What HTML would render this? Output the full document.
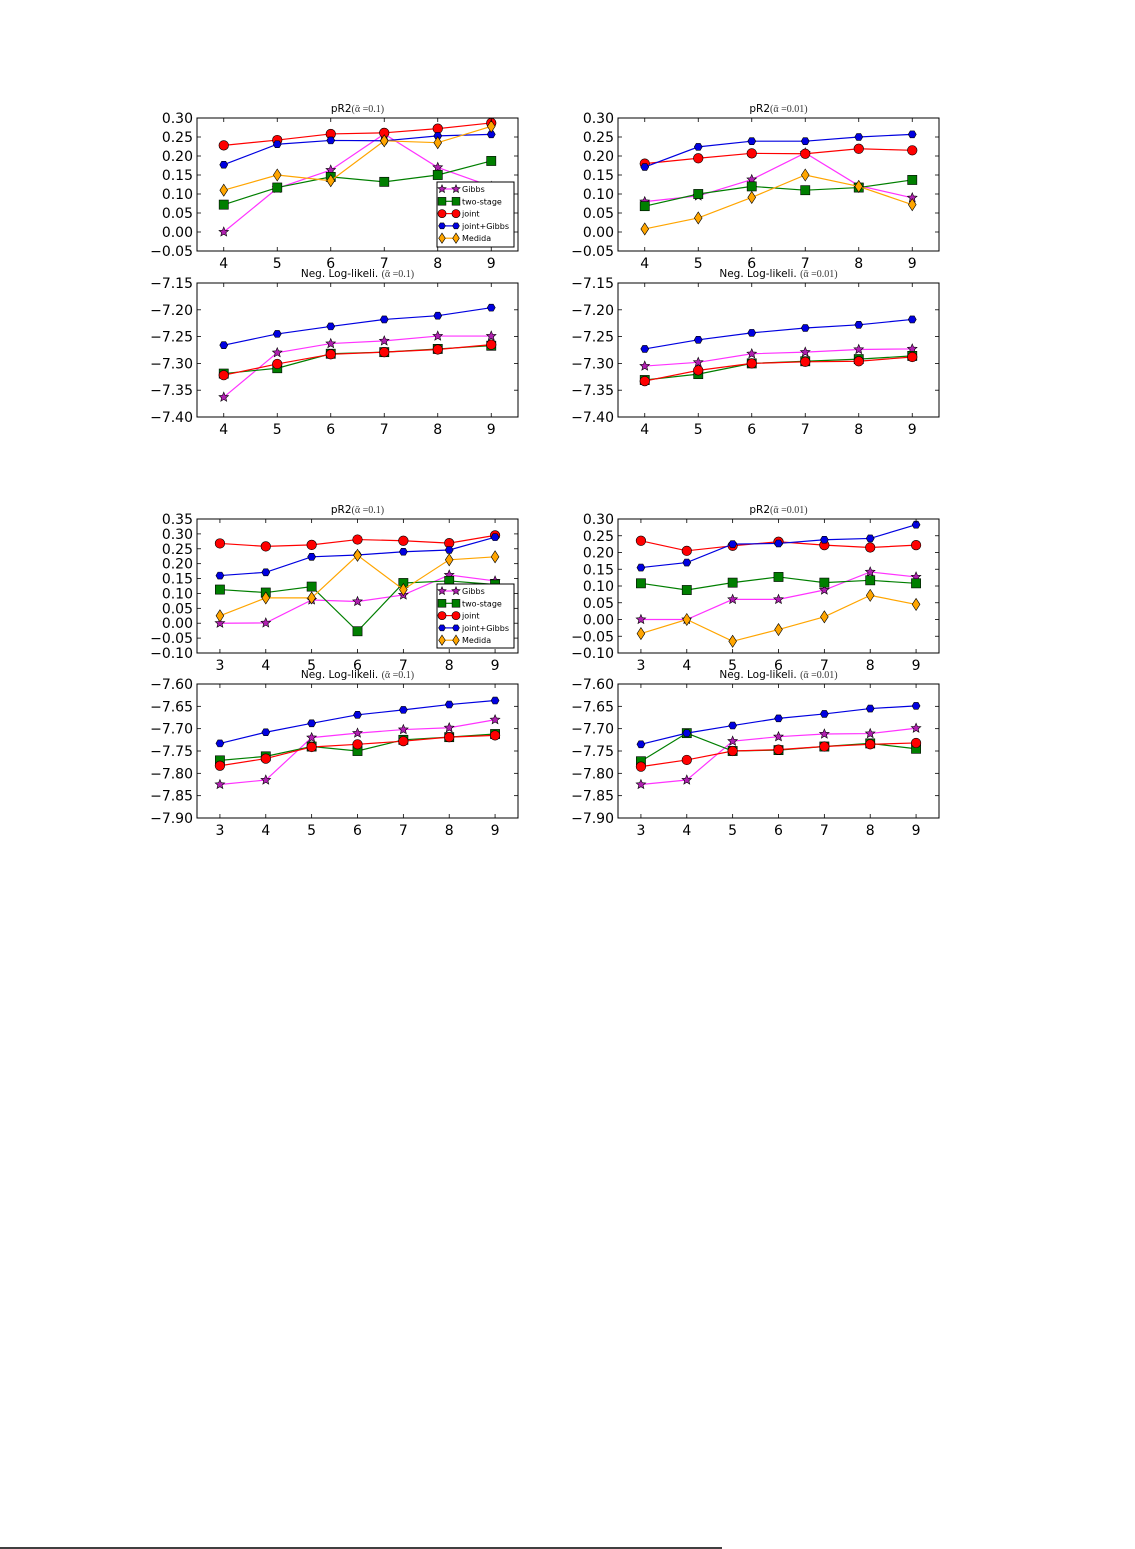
<!DOCTYPE html>
<html><head><meta charset="utf-8"><style>
body{margin:0;background:#fff;width:1135px;height:1549px;overflow:hidden;font-family:"DejaVu Sans","Liberation Sans",sans-serif}
svg{position:absolute;left:0;top:0}
</style></head><body>
<svg id="c" width="1135" height="1549"></svg>
<script>
const xsTop=[4,5,6,7,8,9];
const xsBot=[3,4,5,6,7,8,9];
const seriesNames=["Gibbs","two-stage","joint","joint+Gibbs","Medida"];
// top-left pR2
const tlGibbs=[0.00,0.115,0.163,0.258,0.170,0.12];
const tlTwo=[0.072,0.117,0.145,0.132,0.150,0.187];
const tlJoint=[0.228,0.242,0.258,0.261,0.272,0.287];
const tlJG=[0.177,0.231,0.241,0.240,0.253,0.257];
const tlMed=[0.110,0.150,0.135,0.240,0.235,0.278];
// top-left NLL
const tlnGibbs=[-7.363,-7.280,-7.263,-7.258,-7.249,-7.249];
const tlnTwo=[-7.319,-7.309,-7.282,-7.279,-7.273,-7.267];
const tlnJoint=[-7.322,-7.301,-7.283,-7.279,-7.274,-7.265];
const tlnJG=[-7.266,-7.245,-7.231,-7.218,-7.211,-7.196];
// top-right pR2
const trGibbs=[0.080,0.095,0.138,0.208,0.122,0.090];
const trTwo=[0.068,0.100,0.120,0.110,0.117,0.137];
const trJoint=[0.180,0.194,0.207,0.206,0.219,0.215];
const trJG=[0.171,0.224,0.239,0.239,0.250,0.257];
const trMed=[0.008,0.037,0.091,0.150,0.120,0.072];
// top-right NLL
const trnGibbs=[-7.305,-7.298,-7.282,-7.279,-7.274,-7.273];
const trnTwo=[-7.331,-7.320,-7.300,-7.296,-7.292,-7.286];
const trnJoint=[-7.333,-7.313,-7.300,-7.297,-7.296,-7.288];
const trnJG=[-7.273,-7.256,-7.243,-7.234,-7.228,-7.218];
// bottom-left pR2
const blGibbs=[0.000,0.001,0.078,0.073,0.095,0.162,0.142];
const blTwo=[0.113,0.103,0.123,-0.027,0.135,0.142,0.130];
const blJoint=[0.268,0.258,0.263,0.281,0.277,0.269,0.295];
const blJG=[0.160,0.171,0.223,0.229,0.240,0.246,0.289];
const blMed=[0.025,0.085,0.085,0.228,0.113,0.213,0.223];
// bottom-left NLL
const blnGibbs=[-7.825,-7.815,-7.720,-7.710,-7.702,-7.698,-7.680];
const blnTwo=[-7.771,-7.762,-7.740,-7.750,-7.725,-7.719,-7.712];
const blnJoint=[-7.783,-7.767,-7.741,-7.735,-7.728,-7.719,-7.715];
const blnJG=[-7.733,-7.708,-7.688,-7.669,-7.658,-7.646,-7.637];
// bottom-right pR2
const brGibbs=[0.000,0.000,0.060,0.060,0.088,0.142,0.127];
const brTwo=[0.108,0.088,0.110,0.127,0.110,0.117,0.108];
const brJoint=[0.235,0.205,0.220,0.232,0.222,0.215,0.222];
const brJG=[0.155,0.170,0.225,0.227,0.238,0.242,0.283];
const brMed=[-0.042,0.000,-0.065,-0.030,0.008,0.072,0.045];
// bottom-right NLL
const brnGibbs=[-7.825,-7.815,-7.728,-7.718,-7.712,-7.711,-7.699];
const brnTwo=[-7.773,-7.710,-7.750,-7.748,-7.740,-7.733,-7.745];
const brnJoint=[-7.785,-7.770,-7.750,-7.747,-7.740,-7.735,-7.732];
const brnJG=[-7.735,-7.710,-7.693,-7.677,-7.667,-7.655,-7.649];
const ticksTopPR2=[-0.05,0,0.05,0.10,0.15,0.20,0.25,0.30];
const ticksTopNLL=[-7.40,-7.35,-7.30,-7.25,-7.20,-7.15];
const ticksBlPR2=[-0.10,-0.05,0,0.05,0.10,0.15,0.20,0.25,0.30,0.35];
const ticksBrPR2=[-0.10,-0.05,0,0.05,0.10,0.15,0.20,0.25,0.30];
const ticksBotNLL=[-7.90,-7.85,-7.80,-7.75,-7.70,-7.65,-7.60];

const NS="http://www.w3.org/2000/svg";
const svg=document.getElementById('c');
function el(t,a,p){const e=document.createElementNS(NS,t);for(const k in a)e.setAttribute(k,a[k]);(p||svg).appendChild(e);return e;}
const styles=[
 {line:"#ff33ff",fill:"#b020b0",m:"star",s:5},
 {line:"#007f00",fill:"#007f00",m:"sq",s:4.6},
 {line:"#ff0000",fill:"#ff0000",m:"circ",s:4.8},
 {line:"#0000e0",fill:"#0000e0",m:"hex",s:4},
 {line:"#ffa500",fill:"#ffa500",m:"dia",s:6}];
function marker(g,st,x,y){
 const s=st.s;
 if(st.m==="circ"){return el('circle',{cx:x,cy:y,r:s,fill:st.fill,stroke:"#000","stroke-width":0.6},g);}
 if(st.m==="sq"){return el('rect',{x:x-s,y:y-s,width:2*s,height:2*s,fill:st.fill,stroke:"#000","stroke-width":0.6},g);}
 let pts=[];
 if(st.m==="star"){for(let i=0;i<10;i++){const r=i%2?s*0.45:s;const a=-Math.PI/2+i*Math.PI/5;pts.push([x+r*Math.cos(a),y+r*Math.sin(a)]);}}
 if(st.m==="hex"){for(let i=0;i<6;i++){const a=i*Math.PI/3;pts.push([x+s*Math.cos(a),y+s*Math.sin(a)]);}}
 if(st.m==="dia"){pts=[[x,y-s],[x+s*0.65,y],[x,y+s],[x-s*0.65,y]];}
 return el('polygon',{points:pts.map(p=>p.join(',')).join(' '),fill:st.fill,stroke:"#000","stroke-width":0.6},g);
}
function panel(name,L,T,R,B,xs,xmin,xmax,ymin,ymax,yt,title,alpha,series,legend){
 const g=el('g',{});
 
 
 const sx=v=>L+(v-xmin)/(xmax-xmin)*(R-L);
 const sy=v=>B-(v-ymin)/(ymax-ymin)*(B-T);
 const t=el('text',{x:(L+R)/2,y:T-6,"text-anchor":"middle","font-size":10.5,fill:"#000"},g);
 const t1=el('tspan',{},t);t1.textContent=title;
 const t2=el('tspan',{"font-family":"Liberation Serif, serif","font-size":10,fill:"#333"},t);t2.textContent=alpha;
 
 
 series.forEach((vals,i)=>{
  if(!vals)return;
  const st=styles[i];
  const sg=el('g',{},g);
  
  
  el('polyline',{points:vals.map((v,j)=>sx(xs[j])+','+sy(v)).join(' '),fill:"none",stroke:st.line,"stroke-width":1.2},sg);
  vals.forEach((v,j)=>marker(sg,st,sx(xs[j]),sy(v)));
 });
 yt.forEach(v=>{
  const y=sy(v);
  el('line',{x1:L,x2:L+4,y1:y,y2:y,stroke:"#000","stroke-width":0.8},g);
  el('line',{x1:R,x2:R-4,y1:y,y2:y,stroke:"#000","stroke-width":0.8},g);
  const tx=el('text',{x:L-4,y:y+5,"text-anchor":"end","font-size":14,fill:"#000"},g);
  tx.textContent=(v<0?"\u2212":"")+Math.abs(v).toFixed(2);
  
  
 });
 xs.forEach(v=>{
  const x=sx(v);
  el('line',{x1:x,x2:x,y1:B,y2:B-4,stroke:"#000","stroke-width":0.8},g);
  el('line',{x1:x,x2:x,y1:T,y2:T+4,stroke:"#000","stroke-width":0.8},g);
  const tx=el('text',{x:x,y:B+17,"text-anchor":"middle","font-size":14,fill:"#000"},g);
  tx.textContent=v;
  
  
 });
 el('rect',{x:L,y:T,width:R-L,height:B-T,fill:"none",stroke:"#000","stroke-width":1},g);
 if(legend){
  const [lx,ly,lw,lh]=legend;
  const lg=el('g',{},g);
  
  
  el('rect',{x:lx,y:ly,width:lw,height:lh,fill:"#fff",stroke:"#000","stroke-width":1},lg);
  seriesNames.forEach((n,i)=>{
   const y=ly+7+i*12.3;const st=styles[i];
   el('line',{x1:lx+4,x2:lx+20,y1:y,y2:y,stroke:st.line,"stroke-width":1.2},lg);
   const s2={...st,s:st.s*0.85};
   marker(lg,s2,lx+5,y);marker(lg,s2,lx+19,y);
   const tx=el('text',{x:lx+25,y:y+3,"font-size":8,fill:"#000"},lg);
   tx.textContent=n;
   
   
  });
 }
}
const a1="(\u1FB1 =0.1)", a2="(\u1FB1 =0.01)";
panel('pr2-top-left',197,118,518,251,xsTop,3.5,9.5,-0.05,0.30,ticksTopPR2,"pR2",a1,[tlGibbs,tlTwo,tlJoint,tlJG,tlMed],[437,182,77,65]);
panel('nll-top-left',197,283,518,417,xsTop,3.5,9.5,-7.40,-7.15,ticksTopNLL,"Neg. Log-likeli. ",a1,[tlnGibbs,tlnTwo,tlnJoint,tlnJG,null]);
panel('pr2-top-right',618,118,939,251,xsTop,3.5,9.5,-0.05,0.30,ticksTopPR2,"pR2",a2,[trGibbs,trTwo,trJoint,trJG,trMed]);
panel('nll-top-right',618,283,939,417,xsTop,3.5,9.5,-7.40,-7.15,ticksTopNLL,"Neg. Log-likeli. ",a2,[trnGibbs,trnTwo,trnJoint,trnJG,null]);
panel('pr2-bottom-left',197,519,518,653,xsBot,2.5,9.5,-0.10,0.35,ticksBlPR2,"pR2",a1,[blGibbs,blTwo,blJoint,blJG,blMed],[437,584,77,64]);
panel('nll-bottom-left',197,684,518,818,xsBot,2.5,9.5,-7.90,-7.60,ticksBotNLL,"Neg. Log-likeli. ",a1,[blnGibbs,blnTwo,blnJoint,blnJG,null]);
panel('pr2-bottom-right',618,519,939,653,xsBot,2.5,9.5,-0.10,0.30,ticksBrPR2,"pR2",a2,[brGibbs,brTwo,brJoint,brJG,brMed]);
panel('nll-bottom-right',618,684,939,818,xsBot,2.5,9.5,-7.90,-7.60,ticksBotNLL,"Neg. Log-likeli. ",a2,[brnGibbs,brnTwo,brnJoint,brnJG,null]);
const fl=el('line',{x1:0,x2:722,y1:1548,y2:1548,stroke:"#000","stroke-width":1.5});


</script>
</body></html>
